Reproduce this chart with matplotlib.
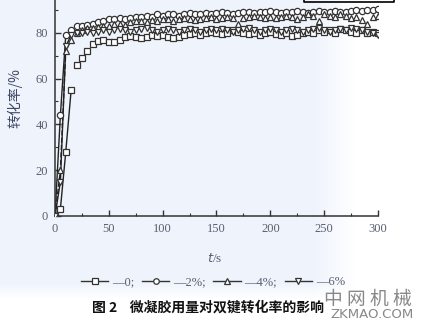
import numpy as np
import matplotlib
matplotlib.use("Agg")
import matplotlib.pyplot as plt
from matplotlib.lines import Line2D

# time axis (s), one reading every 5 s
t = list(range(0, 305, 5))

conv_0 = [0, 3, 28, 55, 66, 69, 72, 75, 76.5, 77, 76, 76, 77, 78, 78.5, 78, 77.5, 78, 79, 78.5,
          79, 78, 77.5, 78, 79, 79.5, 80, 79, 80, 80.5, 80, 79.5, 80, 81, 80.5, 80, 79.5, 80, 79, 80,
          80.5, 79.5, 79, 80, 78.5, 79, 80, 80.5, 80, 81, 80.5, 81, 80, 81.5, 81, 80.5, 80, 81, 80, 80.5, 80]
conv_2 = [0, 44, 79, 81, 83, 83, 83.5, 84, 84.5, 85, 86, 86, 86.5, 86, 86.5, 87, 87, 87.5, 87, 88,
          87.5, 88, 88, 87.5, 88, 88.5, 88, 88, 88.5, 88, 88.5, 89, 88.5, 88, 88.5, 89, 89, 88.5, 89, 89,
          89.5, 89, 88.5, 89, 89, 89.5, 89, 88.5, 89, 89.5, 89, 89, 89.5, 89, 89, 89.5, 90, 89.5, 90, 90, 90.5]
conv_4 = [0, 20, 72, 77, 80, 81, 82, 82, 82.5, 83, 83, 84, 84, 83.5, 84.5, 85, 85, 84.5, 85.5, 85,
          86, 86, 85, 86, 86.5, 86, 85.5, 86, 86.5, 87, 86, 86.5, 87, 86.5, 84, 86.5, 87, 87.5, 87, 86.5,
          87, 86.5, 87, 87.5, 87, 86, 87, 88, 87.5, 85, 88, 87.5, 87, 88, 87.5, 86.5, 87, 85.5, 84, 87, 87.5]
conv_6 = [0, 15, 74, 79, 80, 80, 80.5, 80, 80.5, 81, 80.5, 81, 81.5, 81, 80.5, 81, 81.5, 82, 81, 80.5,
          81, 81.5, 81, 80.5, 81, 81.5, 81, 80.5, 81, 81.5, 81, 81.5, 81, 80.5, 81, 81.5, 82, 81, 80.5, 81,
          81.5, 81, 80.5, 81, 81.5, 81, 80.5, 81, 81.5, 82, 81, 80.5, 81, 81.5, 81, 82, 81.5, 81, 80.5, 80, 79]

series = [(conv_0, 's', '-'), (conv_2, 'o', '-'), (conv_4, '^', '--'), (conv_6, 'v', '-')]
labels = ['—0;', '—2%;', '—4%;', '—6%']

W, H = 428, 326
fig = plt.figure(figsize=(W / 100, H / 100), dpi=100)

# faint blue scan tint behind the chart
yy, xx = np.mgrid[0:H, 0:W]
tint = np.clip((355 - xx) / 40, 0, 1) * np.clip((298 - yy) / 15, 0, 1)
bg = np.ones((H, W, 3))
bg[..., 0] -= 0.06 * tint
bg[..., 1] -= 0.04 * tint
bg[..., 2] -= 0.01 * tint
fig.figimage(bg, 0, 0, origin='upper', zorder=-5)

ax = fig.add_axes([55 / W, 1 - 216 / H, (378 - 55) / W, 216 / H])
ax.set_zorder(2)
ax.patch.set_alpha(0)

for y, m, ls in series:
    ax.plot(t[:4], y[:4], color='#222', lw=1.0, ls=ls, zorder=2)
    ax.plot(t, y, ls='none', marker=m, ms=4.5, mfc='white', mec='#333', mew=0.9, zorder=3)

ax.set_xlim(0, 300)
ax.set_ylim(0, 94.3)
ax.set_xticks(range(0, 301, 50))
ax.set_xticks(range(25, 300, 50), minor=True)
ax.set_yticks(range(0, 81, 20))
ax.set_yticks(range(10, 91, 20), minor=True)
for s in ['top', 'right']:
    ax.spines[s].set_visible(False)
for s in ['left', 'bottom']:
    ax.spines[s].set_linewidth(1.1)
    ax.spines[s].set_color('#333')
ax.tick_params(which='major', direction='in', length=4, width=1, color='#333',
               labelsize=9, labelcolor='#5a5e70', pad=5)
ax.tick_params(which='minor', direction='in', length=2.5, width=0.8, color='#333')
for lab in ax.get_xticklabels() + ax.get_yticklabels():
    lab.set_family('Liberation Serif')

fig.text(15 / W, 1 - 98 / H, '转化率/%', rotation=90, ha='center', va='center',
         fontsize=10, color='#3e4666', family=['Noto Sans CJK SC', 'DejaVu Sans'])
fig.text(215 / W, 1 - 258 / H, r'$t$/s', ha='center', va='center', fontsize=9.5,
         color='#5a5e70', family='Liberation Serif')

# legend row under the axis
handles = [Line2D([], [], color='#333', lw=1, marker=m, ms=4, mfc='white', mec='#333', mew=0.9)
           for _, m, _ in series]
leg = fig.legend(handles, labels, loc='center', bbox_to_anchor=(213 / W, 1 - 282 / H), ncol=4,
                 frameon=False, handlelength=2.2, handletextpad=0.3, columnspacing=0.6,
                 prop={'family': ['Liberation Serif', 'DejaVu Sans'], 'size': 9})
for txt in leg.get_texts():
    txt.set_color('#5a5e70')

# box edge at the top right (cut off in the scan)
fig.add_artist(Line2D([304 / W, 304 / W, 394 / W, 394 / W], [1.02, 1 - 1.5 / H, 1 - 1.5 / H, 1.02],
                      transform=fig.transFigure, color='black', lw=1.2))

fig.text(208 / W, 1 - 308 / H, '图 2    微凝胶用量对双键转化率的影响', ha='center', va='center',
         fontsize=10, fontweight='bold', color='#111', family=['Noto Sans CJK SC', 'DejaVu Sans'])

# watermark
fig.text(368 / W, 1 - 299 / H, '中 网 机 械', ha='center', va='center', fontsize=13.5,
         color='#888', family=['Noto Sans CJK SC', 'DejaVu Sans'])
fig.text(372 / W, 1 - 315 / H, 'ZKMAO.COM', ha='center', va='center', fontsize=9.5,
         color='#888', family='DejaVu Sans')

fig.savefig('out.png', dpi=100)
